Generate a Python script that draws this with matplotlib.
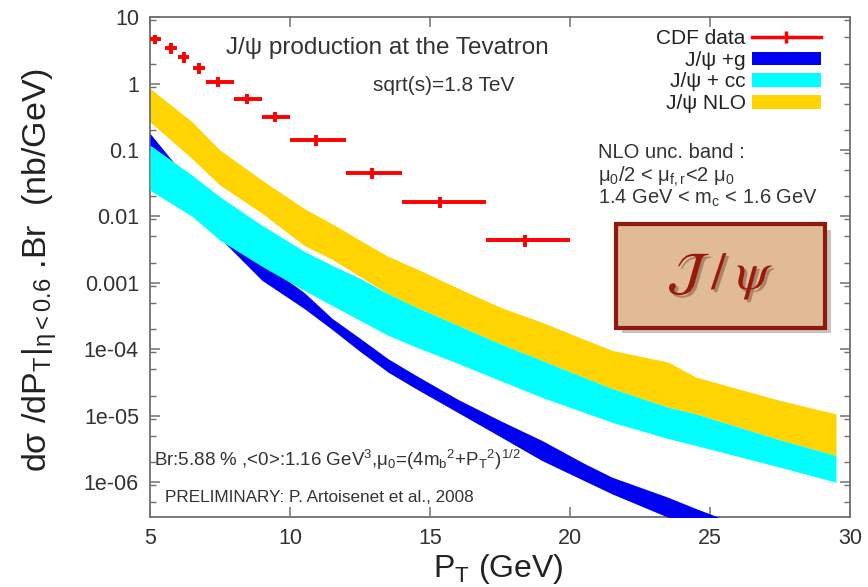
import matplotlib
matplotlib.use('Agg')
import matplotlib.pyplot as plt
import matplotlib.patheffects as pe
from matplotlib.patches import Patch, Rectangle
from matplotlib.lines import Line2D
from matplotlib.ticker import FixedLocator, FixedFormatter, LogLocator, NullFormatter

plt.rcParams['font.family'] = ['Liberation Sans', 'DejaVu Sans']
plt.rcParams['mathtext.fontset'] = 'custom'
plt.rcParams['mathtext.rm'] = 'Liberation Sans'
plt.rcParams['mathtext.it'] = 'Liberation Sans:italic'
plt.rcParams['mathtext.bf'] = 'Liberation Sans:bold'

# CDF data (Run I, |eta|<0.6)
cdf_pt = [5.18, 5.75, 6.2, 6.75, 7.43, 8.46, 9.46, 10.93, 12.93, 15.36, 18.4]
cdf_lo = [4.98, 5.55, 6.0, 6.55, 7.0, 8.0, 9.0, 10.0, 12.0, 14.0, 17.0]
cdf_hi = [5.38, 5.95, 6.4, 6.95, 8.0, 9.0, 10.0, 12.0, 14.0, 17.0, 20.0]
cdf_val = [4.7, 3.44, 2.52, 1.72, 1.06, 0.59, 0.32, 0.141, 0.045, 0.0164, 0.0044]
cdf_err = [0.8, 0.6, 0.45, 0.3, 0.18, 0.1, 0.055, 0.027, 0.0085, 0.0032, 0.0009]

# theory bands (upper / lower edges)
pt = [5, 6.5, 7.5, 9, 10.5, 11.5, 12.5, 13.5, 14.5, 16, 17.5, 19, 20.5, 21.5, 23.5, 24.5, 27.5, 29.5]
nlo_up = [0.849, 0.268, 0.100, 0.0352, 0.0132, 0.00776, 0.00438, 0.00251, 0.00164, 8.3e-4,
          4.3e-4, 2.54e-4, 1.41e-4, 9.6e-5, 6.4e-5, 3.8e-5, 1.69e-5, 1.06e-5]
nlo_dn = [0.266, 0.0747, 0.0296, 0.0112, 0.00368, 0.00226, 0.00125, 6.87e-4, 4.31e-4, 2.29e-4,
          1.21e-4, 6.78e-5, 3.76e-5, 2.56e-5, 1.34e-5, 1.06e-5, 4.31e-6, 2.50e-6]
cc_up = [0.119, 0.0418, 0.0197, 0.00736, 0.00299, 0.00184, 0.00117, 6.87e-4, 4.31e-4, 2.29e-4,
         1.21e-4, 6.78e-5, 3.76e-5, 2.56e-5, 1.34e-5, 1.06e-5, 4.31e-6, 2.50e-6]
cc_dn = [0.0248, 0.01007, 0.00438, 0.00177, 7.71e-4, 4.58e-4, 2.72e-4, 1.62e-4, 1.08e-4, 6.11e-5,
         3.38e-5, 1.88e-5, 1.12e-5, 7.94e-6, 4.52e-6, 3.54e-6, 1.67e-6, 9.9e-7]
g_up = [0.178, 0.0300, 0.00818, 0.00204, 7.19e-4, 2.92e-4, 1.46e-4, 7.19e-5, 4.03e-5, 1.75e-5,
        8.43e-6, 4.21e-6, 1.91e-6, 1.18e-6, 5.88e-7, 3.97e-7, 1.31e-7, 6.0e-8]
g_dn = [0.0997, 0.0248, 0.00469, 0.00109, 4.12e-4, 1.99e-4, 9.27e-5, 4.52e-5, 2.54e-5, 1.11e-5,
        4.84e-6, 2.10e-6, 1.05e-6, 6.62e-7, 2.94e-7, 1.98e-7, 6.5e-8, 3.0e-8]

ytick_vals = [1e-6, 1e-5, 1e-4, 1e-3, 1e-2, 0.1, 1, 10]
ytick_labels = ['1e-06', '1e-05', '1e-04', '0.001', '0.01', '0.1', '1', '10']
xtick_vals = [5, 10, 15, 20, 25, 30]

fig = plt.figure(figsize=(8.68, 5.87), dpi=100)
ax = fig.add_axes([0.1728, 0.1198, 0.8065, 0.8507])

ax.fill_between(pt, nlo_dn, nlo_up, color='#FFD400', lw=0, zorder=2)
ax.fill_between(pt, g_dn, g_up, color='#0000F0', lw=0, zorder=3)
ax.fill_between(pt, cc_dn, cc_up, color='#00FFFF', lw=0, zorder=4)

xerr = [[c - l for c, l in zip(cdf_pt, cdf_lo)], [h - c for c, h in zip(cdf_pt, cdf_hi)]]
ax.errorbar(cdf_pt, cdf_val, xerr=xerr, yerr=cdf_err, fmt='none', ecolor='#FF0000',
            elinewidth=2.8, capsize=0, zorder=5)

ax.set_yscale('log')
ax.set_xlim(5, 30)
ax.set_ylim(3e-7, 10)

ax.yaxis.set_major_locator(FixedLocator(ytick_vals))
ax.yaxis.set_major_formatter(FixedFormatter(ytick_labels))
ax.yaxis.set_minor_locator(LogLocator(base=10, subs=(2, 5, 9)))
ax.yaxis.set_minor_formatter(NullFormatter())
ax.set_xticks(xtick_vals)

for s in ax.spines.values():
    s.set_color('#707070')
    s.set_linewidth(1.3)
ax.tick_params(which='both', direction='in', top=True, right=True, color='#707070')
ax.tick_params(which='major', length=7, width=1.1, labelsize=15.5, labelcolor='#333333', pad=8)
ax.tick_params(which='minor', length=4, width=1.0)

ax.set_xlabel(r'P$_\mathrm{T}$ (GeV)', fontsize=23, color='#222222')
ax.xaxis.set_label_coords(0.497, -0.07)
ax.set_ylabel(r'dσ /dP$_\mathrm{T}$|$_\mathrm{η<0.6}$ .Br  (nb/GeV)', fontsize=24.5,
              color='#222222')
ax.yaxis.set_label_coords(-0.13, 0.494)

txt = dict(transform=ax.transAxes, color='#333333')
ax.text(0.109, 0.9385, 'J/ψ production at the Tevatron', fontsize=17.5, va='center', **txt)
ax.text(0.319, 0.864, 'sqrt(s)=1.8 TeV', fontsize=15, va='center', **txt)
ax.text(0.64, 0.73, 'NLO unc. band :', fontsize=14.5, va='center', **txt)
ax.text(0.64, 0.681, r'μ$_0$/2 < μ$_\mathrm{f,r}$<2 μ$_0$', fontsize=14.5, va='center', **txt)
ax.text(0.64, 0.637, r'1.4 GeV < m$_\mathrm{c}$ < 1.6 GeV', fontsize=14.5, va='center', **txt)
ax.text(0.006, 0.1135,
        r'Br:5.88 % ,<0>:1.16 GeV$^3$,μ$_0$=(4m$_\mathrm{b}$$^2$+P$_\mathrm{T}$$^2$)$^{1/2}$',
        fontsize=13.5, va='center', **txt)
ax.text(0.021, 0.039, 'PRELIMINARY: P. Artoisenet et al., 2008', fontsize=12.3,
        va='center', **txt)

# J/psi label box
box = Rectangle((0.666, 0.378), 0.2986, 0.208, transform=ax.transAxes,
                facecolor='#E0BB96', edgecolor='#8E1A0B', lw=3, zorder=6,
                path_effects=[pe.SimplePatchShadow(offset=(4, -4), alpha=0.3), pe.Normal()])
ax.add_patch(box)
ax.text(0.815, 0.482, r'$\mathcal{J}\;/\;\psi$', transform=ax.transAxes, fontsize=38,
        color='#9A1A0A', ha='center', va='center', zorder=7, math_fontfamily='stix',
        path_effects=[pe.withSimplePatchShadow(offset=(2, -2), alpha=0.3)])

handles = [
    Line2D([], [], color='#FF0000', lw=2.5, marker='|', markersize=8, markeredgewidth=2.5),
    Patch(facecolor='#0000F0', edgecolor='none'),
    Patch(facecolor='#00FFFF', edgecolor='none'),
    Patch(facecolor='#FFD400', edgecolor='none'),
]
labels = ['CDF data', 'J/ψ +g', 'J/ψ + cc', 'J/ψ NLO']
leg = ax.legend(handles, labels, loc='upper right', bbox_to_anchor=(0.985, 1.014),
                frameon=False, markerfirst=False, fontsize=15, handlelength=3.3,
                handleheight=0.65, labelspacing=0.13, handletextpad=0.3)
for t in leg.get_texts():
    t.set_color('#222222')

fig.savefig('out.png', dpi=100)
